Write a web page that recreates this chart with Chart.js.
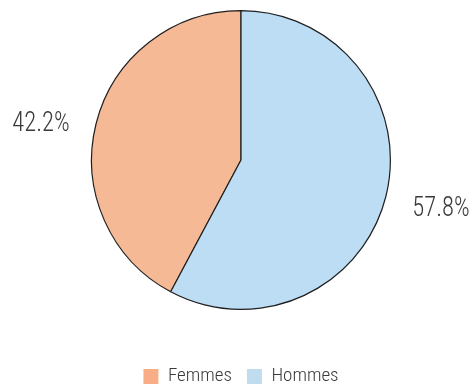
<!DOCTYPE html>
<html>
<head>
<meta charset="utf-8">
<script src="https://cdn.jsdelivr.net/npm/chart.js@4"></script>
<style>
  html, body { margin: 0; padding: 0; background: #ffffff; }
  #wrap { width: 474px; height: 384px; position: relative; }
</style>
</head>
<body>
<div id="wrap"><canvas id="chart"></canvas></div>
<script>
// Répartition par sexe (%)
const categories = ['Femmes', 'Hommes'];
const shares = [42.2, 57.8];
const sliceColors = ['#F6B995', '#BCDDF4'];
const legendColors = ['#F8AD87', '#BFDDEE'];

const FONT = '"Roboto Condensed", "Liberation Sans Narrow", sans-serif';
const TEXT_COLOR = '#3a3a3a';

// Percentage labels placed outside each slice
const outsideLabels = {
  id: 'outsideLabels',
  afterDatasetsDraw(chart) {
    const ctx = chart.ctx;
    const meta = chart.getDatasetMeta(0);
    meta.data.forEach((arc, i) => {
      const { x, y, startAngle, endAngle, outerRadius } = arc.getProps(['x', 'y', 'startAngle', 'endAngle', 'outerRadius'], true);
      const mid = (startAngle + endAngle) / 2;
      const lx = x + Math.cos(mid) * outerRadius * 1.38;
      const ly = y + Math.sin(mid) * outerRadius * 1.17 + 6.5;
      const text = shares[i].toFixed(1) + '%';
      ctx.save();
      ctx.font = '300 27px ' + FONT;
      ctx.fillStyle = TEXT_COLOR;
      ctx.textAlign = 'center';
      ctx.textBaseline = 'middle';
      const w = ctx.measureText(text).width;
      const sx = 57.5 / w;
      ctx.translate(lx, ly);
      ctx.scale(sx, 1);
      ctx.fillText(text, 0, 0);
      ctx.restore();
    });
  }
};

new Chart(document.getElementById('chart'), {
  type: 'pie',
  data: {
    labels: categories,
    datasets: [{
      data: shares,
      backgroundColor: sliceColors,
      borderColor: '#1f1f1f',
      borderWidth: 1.2
    }]
  },
  options: {
    responsive: true,
    maintainAspectRatio: false,
    animation: false,
    rotation: -shares[0] * 3.6,
    layout: { padding: { top: 10, left: 8, right: 0, bottom: -12 } },
    plugins: {
      tooltip: { enabled: false },
      legend: {
        position: 'bottom',
        title: {
          display: true,
          text: ' ',
          font: { size: 1, lineHeight: 1 },
          padding: { top: 41, bottom: 0 }
        },
        labels: {
          boxWidth: 15,
          boxHeight: 15,
          padding: 15,
          color: TEXT_COLOR,
          font: { family: FONT, size: 19, weight: '300' },
          generateLabels(chart) {
            return categories.map((c, i) => ({
              text: c,
              fillStyle: legendColors[i],
              strokeStyle: legendColors[i],
              lineWidth: 0,
              hidden: false,
              index: i,
              fontColor: TEXT_COLOR
            }));
          }
        }
      }
    }
  },
  plugins: [outsideLabels]
});
</script>
</body>
</html>
